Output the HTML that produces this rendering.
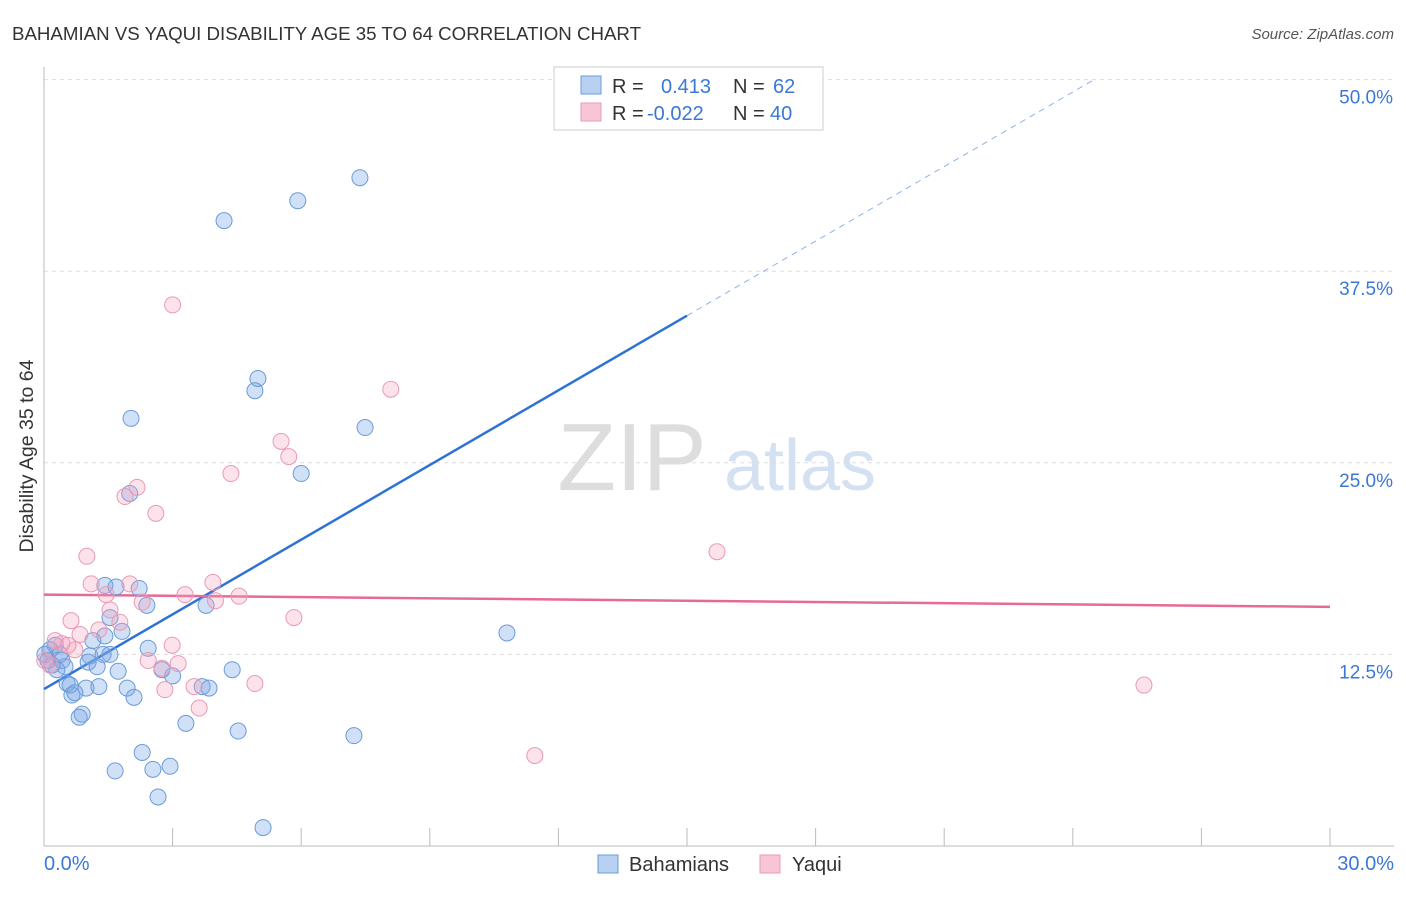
<!DOCTYPE html>
<html><head><meta charset="utf-8"><style>
body{margin:0;background:#fff;font-family:"Liberation Sans",sans-serif}
svg text{font-family:"Liberation Sans",sans-serif}
</style></head><body>
<svg width="1406" height="892" viewBox="0 0 1406 892" xmlns="http://www.w3.org/2000/svg">
<text x="12" y="40" font-size="18.7" fill="#333">BAHAMIAN VS YAQUI DISABILITY AGE 35 TO 64 CORRELATION CHART</text>
<text x="1394" y="39" font-size="15" fill="#555" text-anchor="end" font-style="italic">Source: ZipAtlas.com</text>
<g>
<text x="632" y="490" font-size="96" fill="#ddd" text-anchor="middle" font-family="Liberation Serif">ZIP</text>
<text x="800" y="490" font-size="72" fill="#d3e1f3" text-anchor="middle">atlas</text>
</g>
<g id="grid"></g>
<g id="axes"></g>
<g id="lines"></g>
<g id="points"></g>
<text transform="translate(33,456) rotate(-90)" font-size="19.5" fill="#333" text-anchor="middle">Disability Age 35 to 64</text>
<g>
<rect x="554" y="67" width="269" height="63" fill="#fff" stroke="#ccc"/>
<rect x="581" y="76" width="20" height="18" fill="#b8d1f3" stroke="#6c9bd8"/>
<rect x="581" y="103" width="20" height="18" fill="#f8c5d6" stroke="#e89ab5"/>
<text x="612" y="93" font-size="20" fill="#333">R =</text>
<text x="661" y="93" font-size="20" fill="#3a78d6">0.413</text>
<text x="733" y="93" font-size="20" fill="#333">N =</text>
<text x="773" y="93" font-size="20" fill="#3a78d6">62</text>
<text x="612" y="120" font-size="20" fill="#333">R =</text>
<text x="647" y="120" font-size="20" fill="#3a78d6">-0.022</text>
<text x="733" y="120" font-size="20" fill="#333">N =</text>
<text x="770" y="120" font-size="20" fill="#3a78d6">40</text>
</g>
<g>
<rect x="598" y="855" width="20" height="18" fill="#b8d1f3" stroke="#6c9bd8"/>
<text x="629" y="871" font-size="20" fill="#333">Bahamians</text>
<rect x="760" y="855" width="20" height="18" fill="#f8c5d6" stroke="#e89ab5"/>
<text x="792" y="871" font-size="20" fill="#333">Yaqui</text>
</g>
</svg>
<script>
const yTicks=[12.5,25,37.5,50];
const yTickLabels=["12.5%","25.0%","37.5%","50.0%"];
const xTicks=[0,3,6,9,12,15,18,21,24,27,30];
const blueX=[7.37,5.92,4.20,4.99,4.92,2.03,7.49,6.0,2.0,1.42,1.68,2.22,2.40,3.78,1.54,1.82,1.42,1.14,10.8,2.43,0.26,0.14,0.02,0.42,1.07,1.38,1.54,1.03,1.24,0.49,0.30,1.73,2.75,3.0,4.39,0.54,0.61,0.98,1.28,1.94,3.69,3.85,0.65,0.72,2.1,0.89,0.82,3.31,4.53,7.23,2.29,2.94,2.54,1.66,2.66,5.11,0.09,0.19,0.37];
const blueY=[43.6,42.1,40.8,30.5,29.7,27.9,27.3,24.3,23.0,17.0,16.9,16.8,15.7,15.7,14.9,14.0,13.7,13.4,13.9,12.9,13.1,12.8,12.5,12.1,12.4,12.5,12.5,12.0,11.7,11.7,11.5,11.4,11.5,11.1,11.5,10.6,10.5,10.3,10.4,10.3,10.4,10.3,9.85,10.0,9.7,8.6,8.4,8.0,7.5,7.2,6.1,5.2,5.0,4.9,3.2,1.2,12.1,11.8,12.5];
const pinkX=[3.0,8.09,5.53,5.71,4.36,2.17,1.89,2.61,15.7,1.0,1.10,2.0,3.94,1.45,3.29,4.55,4.0,2.29,1.54,5.83,0.63,1.77,1.28,0.84,2.99,0.42,2.43,3.13,2.75,0.14,3.5,4.92,25.66,2.82,3.62,11.45,0.26,0.72,0.02,0.56];
const pinkY=[35.3,29.8,26.4,25.4,24.3,23.4,22.8,21.7,19.2,18.9,17.1,17.1,17.2,16.4,16.4,16.3,16.0,15.9,15.4,14.9,14.7,14.6,14.1,13.8,13.1,13.2,12.1,11.9,11.6,11.8,10.4,10.6,10.5,10.2,9.0,5.9,13.4,12.8,12.1,13.1];
const blueTrend=[0,10.24,15,34.6,24.5,50];
const pinkTrend=[0,16.4,30,15.6];
const NS="http://www.w3.org/2000/svg";
const xs=v=>44+v/30*1286, ys=v=>846-v/12.5*191.6;
function mk(p,t,a){const e=document.createElementNS(NS,t);for(const k in a)e.setAttribute(k,a[k]);document.getElementById(p).appendChild(e);return e;}
yTicks.forEach((t,i)=>{
 const l=mk('grid','line',{x1:44,x2:1394,y1:ys(t),y2:ys(t),stroke:'#ddd','stroke-dasharray':'4,4'});
 
 
 const tx=mk('grid','text',{x:1393,y:ys(t)+24,'font-size':19,fill:'#3a78d6','text-anchor':'end'});
 tx.textContent=yTickLabels[i];
 
 
});
const ax=mk('axes','line',{x1:44,x2:1394,y1:846,y2:846,stroke:'#bbb'});


const ay=mk('axes','line',{x1:44,x2:44,y1:67,y2:846,stroke:'#bbb'});


xTicks.forEach(t=>{const l=mk('axes','line',{x1:xs(t),x2:xs(t),y1:828,y2:846,stroke:'#bbb'});
 
 });
let t0=mk('axes','text',{x:44,y:870,'font-size':20,fill:'#3a78d6'});t0.textContent='0.0%';


let t1=mk('axes','text',{x:1394,y:870,'font-size':20,fill:'#3a78d6','text-anchor':'end'});t1.textContent='30.0%';


blueX.forEach((v,i)=>{const c=mk('points','circle',{cx:xs(v),cy:ys(blueY[i]),r:8,fill:'rgba(120,165,230,0.35)',stroke:'#6c9bd8','stroke-width':1});
 
 });
pinkX.forEach((v,i)=>{const c=mk('points','circle',{cx:xs(v),cy:ys(pinkY[i]),r:8,fill:'rgba(245,160,190,0.3)',stroke:'#e89ab5','stroke-width':1});
 
 });
const bl=mk('lines','line',{x1:xs(blueTrend[0]),y1:ys(blueTrend[1]),x2:xs(blueTrend[2]),y2:ys(blueTrend[3]),stroke:'#2f72d6','stroke-width':2.5});


const bd=mk('lines','line',{x1:xs(blueTrend[2]),y1:ys(blueTrend[3]),x2:xs(blueTrend[4]),y2:ys(blueTrend[5]),stroke:'#8fb3e6','stroke-width':1,'stroke-dasharray':'6,5'});


const pl=mk('lines','line',{x1:xs(pinkTrend[0]),y1:ys(pinkTrend[1]),x2:xs(pinkTrend[2]),y2:ys(pinkTrend[3]),stroke:'#e66a96','stroke-width':2.5});


</script>
</body></html>
